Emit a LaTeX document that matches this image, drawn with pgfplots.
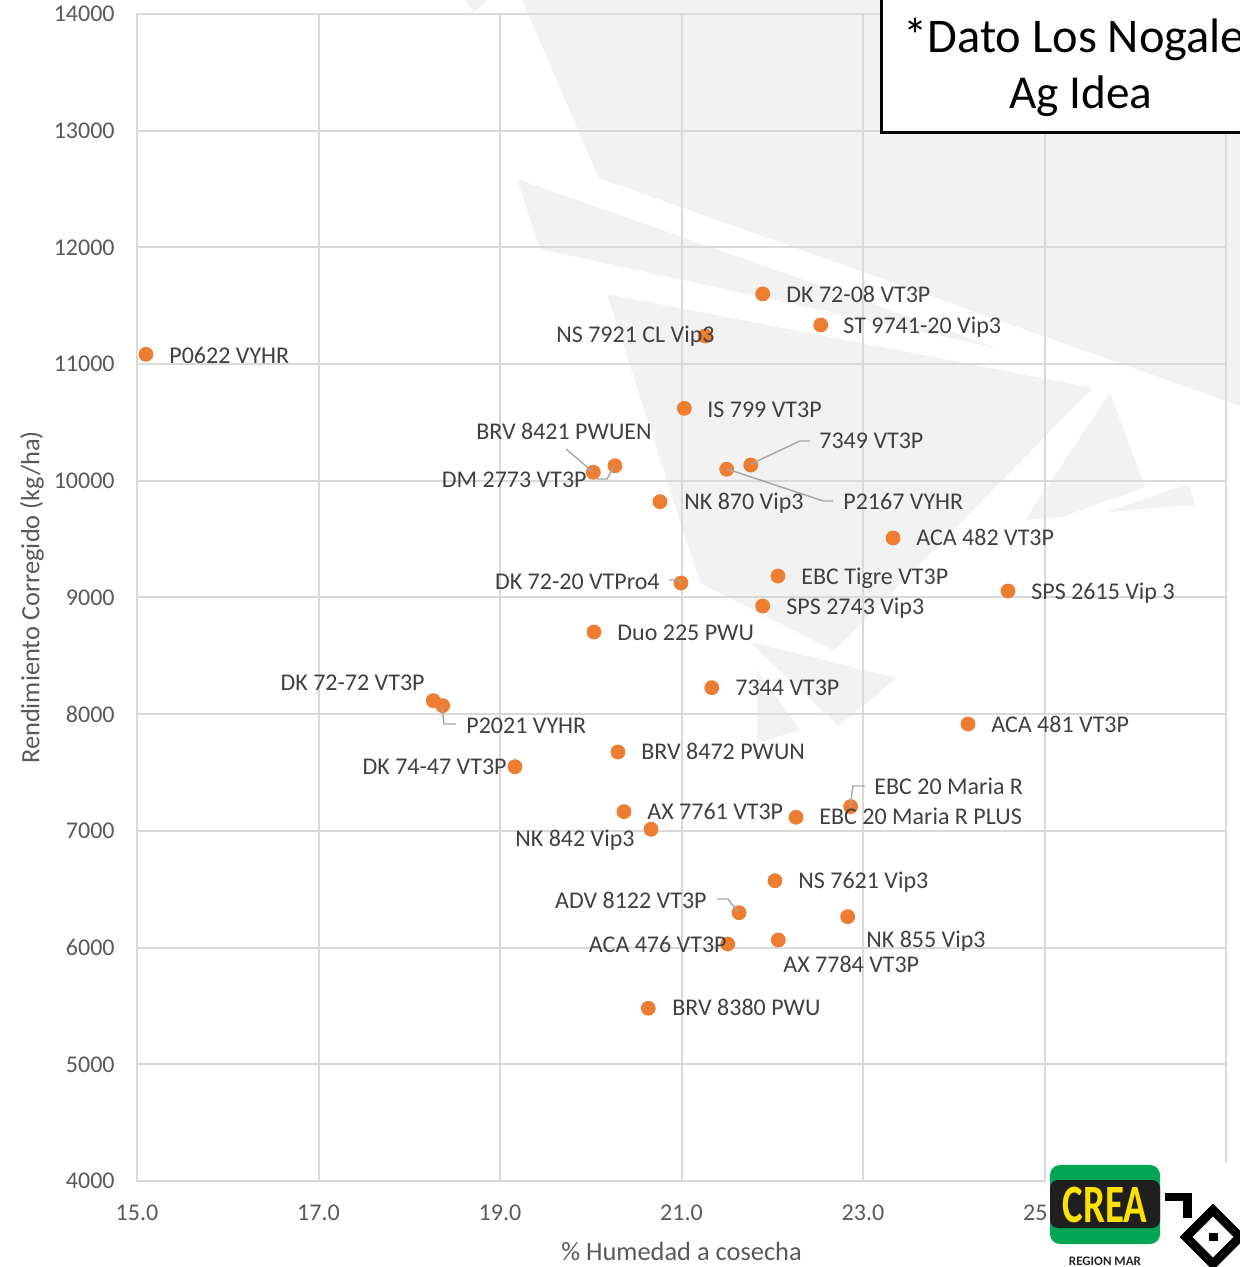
\documentclass[border=0pt]{standalone}
\usepackage{pgfplots}
\pgfplotsset{compat=1.18}
\usepackage{graphicx}
\usepackage{fontspec}
\setmainfont{Carlito}
\definecolor{dot}{HTML}{ED7D31}
\definecolor{gridc}{HTML}{D9D9D9}
\definecolor{lbl}{HTML}{404040}
\definecolor{tickc}{HTML}{595959}
\definecolor{lead}{HTML}{A6A6A6}
\definecolor{wm}{HTML}{F2F2F2}
\definecolor{creagreen}{HTML}{00A651}
\definecolor{creayellow}{HTML}{FFE100}
\pgfplotstableread{
x y
15.099 11084
21.895 11601
22.534 11335
21.259 11241
21.031 10621
21.763 10135
21.498 10099
20.028 10073
20.267 10129
20.763 9821
23.331 9510
22.063 9184
20.994 9124
24.598 9056
21.895 8927
20.036 8704
18.265 8116
18.368 8073
21.333 8227
24.157 7916
20.300 7676
19.165 7550
22.864 7208
20.366 7165
22.262 7117
20.664 7014
22.030 6573
21.634 6299
22.831 6265
22.067 6065
21.509 6031
20.634 5480
}\hibridos
\begin{document}
\begin{tikzpicture}
% background watermark (pixel frame of the reference image)
\begin{scope}[x=0.5pt,y=-0.5pt,shift={(-137,-1181)}]
\clip (137,0) rectangle (1240,1181);
\fill[wm] (465,0) -- (488,0) -- (473,13) -- cycle;
\fill[wm] (522,0) -- (599,178) -- (1240,406) -- (1240,0) -- cycle;
\fill[wm] (517,179) -- (540,249) -- (1000,349) -- cycle;
\fill[wm] (607,294) -- (1093,388) -- (834,651) -- (700,583) -- cycle;
\fill[wm] (1110,393) -- (1145,487) -- (1062,517) -- (1025,520) -- cycle;
\fill[wm] (1107,512) -- (1188,484) -- (1195,505) -- cycle;
\fill[wm] (750,642) -- (897,678) -- (838,726) -- cycle;
\fill[wm] (757,670) -- (800,730) -- (757,743) -- cycle;
\end{scope}
\begin{axis}[name=ax, at={(0,0)}, anchor=south west,
  width=544.5pt, height=583.5pt, scale only axis,
  xmin=15, xmax=27, ymin=4000, ymax=14000,
  xtick={15,17,...,25}, ytick={4000,5000,...,14000},
  scaled y ticks=false, scaled x ticks=false,
  grid=major, grid style={draw=gridc, line width=1pt},
  axis line style={draw=gridc, line width=1pt},
  major tick length=0pt,
  tick label style={font=\fontsize{12}{14}\selectfont, text=tickc},
  /pgf/number format/assume math mode=true,
  xticklabel style={anchor=center, yshift=-16pt, /pgf/number format/fixed, /pgf/number format/fixed zerofill, /pgf/number format/precision=1},
  yticklabel style={anchor=east, inner sep=0pt, xshift=-11pt, /pgf/number format/1000 sep={}},
  xlabel={\% Humedad a cosecha},
  ylabel={Rendimiento Corregido (kg/ha)},
  xlabel style={at={(axis description cs:0.5,0)}, anchor=center, yshift=-35pt, font=\fontsize{13.2}{15}\selectfont, text=tickc},
  ylabel style={at={(axis description cs:-0.0964,0.5)}, anchor=center, font=\fontsize{13.2}{15}\selectfont, text=tickc},
]
\addplot[only marks, mark=*, mark size=3.5pt, mark options={fill=dot, draw=dot}] table {\hibridos};
\end{axis}
% labels, leader lines, box and logo (pixel frame)
\begin{scope}[x=0.5pt,y=-0.5pt,shift={(-137,-1181)}]
\begin{scope}[every node/.style={inner sep=0pt, text=lbl, font=\fontsize{12}{14}\selectfont}]
\node[anchor=base west] at (169,364) {P0622 VYHR};
\node[anchor=base west] at (786,303) {DK 72-08 VT3P};
\node[anchor=base west] at (843,334) {ST 9741-20 Vip3};
\node[anchor=base west] at (707,418) {IS 799 VT3P};
\node[anchor=base west] at (819,449) {7349 VT3P};
\node[anchor=base west] at (684,510) {NK 870 Vip3};
\node[anchor=base west] at (843,510) {P2167 VYHR};
\node[anchor=base west] at (916,546) {ACA 482 VT3P};
\node[anchor=base west] at (801,585) {EBC Tigre VT3P};
\node[anchor=base west] at (1031,600) {SPS 2615 Vip 3};
\node[anchor=base west] at (786,615) {SPS 2743 Vip3};
\node[anchor=base west] at (617,641) {Duo 225 PWU};
\node[anchor=base west] at (735,696) {7344 VT3P};
\node[anchor=base west] at (466,734) {P2021 VYHR};
\node[anchor=base west] at (991,733) {ACA 481 VT3P};
\node[anchor=base west] at (641,760) {BRV 8472 PWUN};
\node[anchor=base west] at (874,795) {EBC 20 Maria R};
\node[anchor=base west] at (647,820) {AX 7761 VT3P};
\node[anchor=base west] at (819,825) {EBC 20 Maria R PLUS};
\node[anchor=base west] at (798,889) {NS 7621 Vip3};
\node[anchor=base west] at (866,948) {NK 855 Vip3};
\node[anchor=base west] at (783,973) {AX 7784 VT3P};
\node[anchor=base west] at (672,1016) {BRV 8380 PWU};
\node[anchor=base east] at (715,343) {NS 7921 CL Vip3};
\node[anchor=base east] at (652,440) {BRV 8421 PWUEN};
\node[anchor=base east] at (587,488) {DM 2773 VT3P};
\node[anchor=base east] at (660,590) {DK 72-20 VTPro4};
\node[anchor=base east] at (425,691) {DK 72-72 VT3P};
\node[anchor=base east] at (507,775) {DK 74-47 VT3P};
\node[anchor=base east] at (635,847) {NK 842 Vip3};
\node[anchor=base east] at (707,909) {ADV 8122 VT3P};
\node[anchor=base east] at (727,953) {ACA 476 VT3P};
\end{scope}
\begin{scope}[draw=lead, line width=0.7pt]
\draw (566,449) -- (593,472);
\draw (597,479) -- (607,479) -- (614,466);
\draw (810,441) -- (800,441) -- (751,464);
\draw (727,469) -- (823,501) -- (833,501);
\draw (669,580) -- (678,580) -- (681,583);
\draw (442,707) -- (444,724) -- (456,724);
\draw (850,807) -- (853,786) -- (865,786);
\draw (717,899) -- (728,899) -- (738,912);
\end{scope}
% note box
\filldraw[fill=white, draw=black, line width=1.5pt] (881,-60) rectangle (1300,133);
\node[anchor=base west, inner sep=0pt, font=\fontsize{24.2}{28}\selectfont] at (903,53) {*Dato Los Nogales};
\node[anchor=base, inner sep=0pt, font=\fontsize{23.6}{28}\selectfont] at (1081,109) {Ag Idea};
% logo
\fill[white] (1046,1163) rectangle (1240,1267);
\fill[creagreen, rounded corners=5pt] (1050,1165) rectangle (1160,1244);
\fill[black!88, rounded corners=4pt] (1050,1180) rectangle (1160,1228);
\node[inner sep=0pt, text=creayellow] at (1105,1205) {\scalebox{0.72}[1]{\fontsize{27}{27}\selectfont\bfseries CREA}};
\node[inner sep=0pt, text=black!85, font=\fontsize{6.5}{7}\selectfont\bfseries] at (1105,1261) {REGION MAR};
\fill[black] (1165,1193) rectangle (1192,1201);
\fill[black] (1183,1201) rectangle (1192,1218);
\draw[black, line width=4.5pt] (1213,1210) -- (1240,1237) -- (1213,1264) -- (1186,1237) -- cycle;
\fill[black] (1209,1233) rectangle (1218,1241);
\pgfresetboundingbox
\path[use as bounding box] (0,1267) rectangle (1240,0);
\end{scope}
\end{tikzpicture}
\end{document}
